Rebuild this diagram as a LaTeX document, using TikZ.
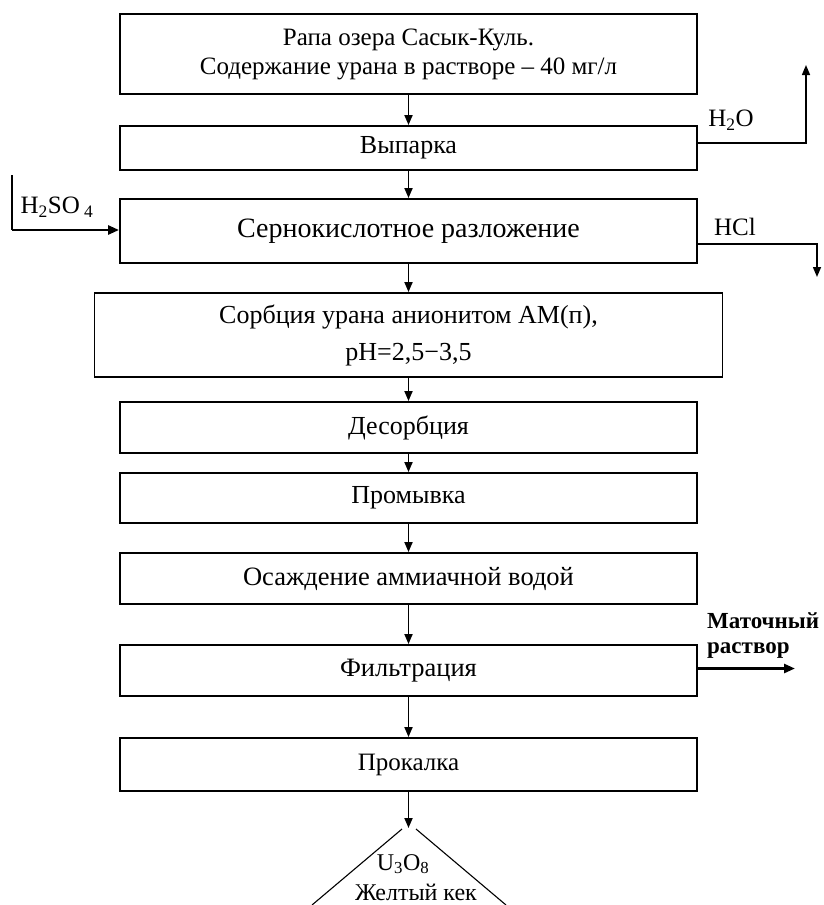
\documentclass[tikz,border=0pt]{standalone}
\usepackage{fontspec}
\setmainfont{Liberation Serif}
\usetikzlibrary{arrows.meta}
\newcommand{\fs}[2]{\fontsize{#1}{#2}\selectfont}
\begin{document}
\begin{tikzpicture}[x=1pt,y=-1pt,
  proc/.style={draw=black, line width=1.9pt, inner sep=0pt, minimum width=577pt, align=center, font=\fs{26}{29}},
  flow/.style={-{Triangle[length=10pt,width=8pt]}, line width=1.8pt},
  flowthick/.style={-{Triangle[length=11pt,width=9pt]}, line width=2.6pt},
  side/.style={line width=1.5pt},
  lbl/.style={inner sep=0pt, font=\fs{25}{28}}]
\useasboundingbox (0,0) rectangle (823,905);

\node[proc, minimum height=80pt, font=\fs{25}{29}] (b1) at (408.5,54) {Рапа озера Сасык-Куль.\\Содержание урана в растворе – 40 мг/л};
\node[proc, minimum height=44pt] (b2) at (408.5,148) {Выпарка};
\node[proc, minimum height=64pt, font=\fs{28}{32}] (b3) at (408.5,231) {Сернокислотное разложение};
\node[proc, minimum height=84pt, minimum width=628pt, font=\fs{26}{37}] (b4) at (408.5,335) {Сорбция урана анионитом АМ(п),\\pH=2,5−3,5};
\node[proc, minimum height=51pt] (b5) at (408.5,427.5) {Десорбция};
\node[proc, minimum height=50pt] (b6) at (408.5,498) {Промывка};
\node[proc, minimum height=51pt, font=\fs{26.5}{29}] (b7) at (408.5,578.5) {Осаждение аммиачной водой};
\node[proc, minimum height=51pt, font=\fs{26.5}{29}] (b8) at (408.5,670.5) {Фильтрация};
\node[proc, minimum height=53pt, font=\fs{25}{29}] (b9) at (408.5,764.5) {Прокалка};

\draw[flow] (b1) -- (b2);
\draw[flow] (b2) -- (b3);
\draw[flow] (b3) -- (b4);
\draw[flow] (b4) -- (b5);
\draw[flow] (b5) -- (b6);
\draw[flow] (b6) -- (b7);
\draw[flow] (b7) -- (b8);
\draw[flow] (b8) -- (b9);

% side streams
\coordinate (h2oEnd) at (806,65);
\draw[side, -{Triangle[length=10pt,width=8pt]}] ([yshift=5pt]b2.east) -| (h2oEnd);
\node[lbl] (h2o) at (731,120) {H\textsubscript{2}O};

\coordinate (hclEnd) at (817,277);
\draw[side, -{Triangle[length=10pt,width=8pt]}] ([yshift=-13pt]b3.east) -| (hclEnd);
\node[lbl] (hcl) at (735,227) {HCl};

\coordinate (acidStart) at (12,175);
\draw[side] (acidStart) -- (12,230);
\draw[flowthick] (12,230) -- ([yshift=1pt]b3.west);
\node[lbl] (acid) at (57,207) {H\textsubscript{2}SO\,\textsubscript{4}};

\coordinate (motherEnd) at (795,668.5);
\draw[flowthick] ([yshift=2pt]b8.east) -- (motherEnd);
\node[lbl, anchor=west, align=left, font=\fs{23}{25}\bfseries] (mother) at (707,636) {Маточный\\раствор};

% product
\coordinate (prodTop) at (408.5,828);
\draw[flow] (b9) -- (prodTop);
\draw[line width=1.1pt] (402,829) -- (312,905);
\draw[line width=1.1pt] (416,829) -- (506,905);
\node[lbl, font=\fs{24}{28}] (u3o8) at (403,864) {U\textsubscript{3}O\textsubscript{8}};
\node[lbl, font=\fs{24}{28}] (cake) at (416,892) {Желтый кек};
\end{tikzpicture}
\end{document}
